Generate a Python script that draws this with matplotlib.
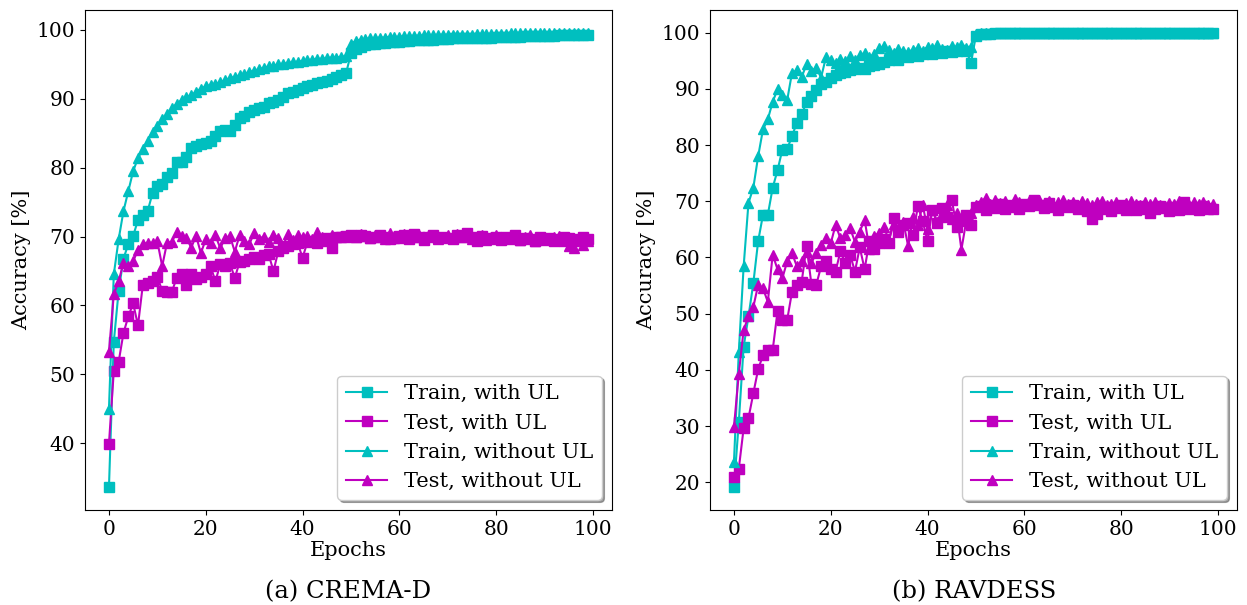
import matplotlib
matplotlib.use("Agg")
import matplotlib.pyplot as plt

plt.rcParams['font.family'] = ['DejaVu Serif']

epochs = list(range(100))

# ---- (a) CREMA-D ----
crema_train_ul = [
    33.6, 54.7, 62.1, 66.8, 68.9, 70.1, 72.4, 73.2, 73.7, 76.3,
    77.4, 77.6, 78.7, 79.2, 80.8, 80.9, 81.6, 82.8, 83.2, 83.4,
    83.6, 83.9, 84.6, 85.3, 85.5, 85.4, 86.2, 87.2, 87.5, 88.1,
    88.4, 88.6, 88.8, 89.4, 89.6, 89.9, 90.3, 90.8, 91.0, 91.3,
    91.6, 91.8, 92.0, 92.3, 92.5, 92.6, 92.9, 93.2, 93.4, 93.7,
    96.6, 97.3, 97.6, 97.8, 97.9, 98.0, 98.1, 98.1, 98.2, 98.3,
    98.3, 98.4, 98.4, 98.5, 98.5, 98.6, 98.6, 98.6, 98.7, 98.7,
    98.7, 98.8, 98.8, 98.8, 98.8, 98.9, 98.9, 98.9, 98.9, 98.9,
    99.0, 99.0, 99.0, 99.0, 99.0, 99.0, 99.1, 99.1, 99.1, 99.1,
    99.1, 99.1, 99.1, 99.2, 99.2, 99.2, 99.2, 99.2, 99.2, 99.2]
crema_test_ul = [
    39.9, 50.5, 51.8, 56.0, 58.4, 60.3, 57.1, 63.0, 63.3, 63.6,
    64.2, 62.1, 62.0, 62.0, 64.0, 64.5, 63.0, 64.5, 63.8, 64.2,
    64.6, 65.7, 63.5, 66.0, 65.8, 66.1, 64.0, 66.3, 66.5, 66.8,
    67.0, 66.7, 67.3, 67.4, 65.0, 67.9, 68.3, 68.6, 68.9, 69.1,
    66.9, 69.2, 69.4, 69.0, 69.6, 69.8, 68.4, 69.9, 70.0, 70.1,
    70.2, 70.0, 70.3, 70.1, 69.8, 69.9, 70.2, 70.0, 69.6, 69.8,
    70.1, 70.2, 69.7, 70.4, 69.9, 69.5, 70.0, 70.3, 69.8, 70.0,
    69.8, 69.6, 70.2, 70.0, 70.5, 69.9, 69.4, 70.1, 69.8, 69.6,
    70.0, 69.5, 69.9, 69.7, 70.2, 69.5, 69.8, 69.6, 69.3, 70.0,
    69.5, 69.8, 69.4, 69.7, 70.0, 69.8, 69.3, 69.6, 69.9, 69.6]
crema_train_nul = [
    45.0, 64.5, 69.6, 73.7, 76.6, 79.5, 81.4, 82.7, 83.9, 85.2,
    86.1, 87.1, 87.8, 88.6, 89.3, 89.8, 90.3, 90.5, 91.0, 91.5,
    91.8, 92.0, 92.2, 92.4, 92.7, 93.0, 93.2, 93.4, 93.6, 93.9,
    94.1, 94.3, 94.5, 94.7, 94.8, 95.0, 95.1, 95.2, 95.3, 95.4,
    95.5, 95.6, 95.7, 95.8, 95.8, 95.9, 96.0, 96.0, 96.1, 96.2,
    98.0, 98.4, 98.6, 98.7, 98.8, 98.8, 98.9, 98.9, 99.0, 99.0,
    99.0, 99.1, 99.1, 99.1, 99.1, 99.2, 99.2, 99.2, 99.2, 99.2,
    99.3, 99.3, 99.3, 99.3, 99.3, 99.3, 99.4, 99.4, 99.4, 99.4,
    99.4, 99.4, 99.4, 99.5, 99.5, 99.5, 99.5, 99.5, 99.5, 99.5,
    99.5, 99.6, 99.6, 99.6, 99.6, 99.6, 99.6, 99.6, 99.6, 99.6]
crema_test_nul = [
    53.3, 61.6, 63.5, 66.2, 65.7, 66.4, 68.1, 68.9, 69.1, 69.1,
    69.3, 65.7, 69.1, 69.2, 70.7, 70.1, 69.8, 68.4, 70.1, 67.6,
    69.6, 69.0, 70.2, 68.3, 69.8, 70.1, 67.8, 70.2, 69.4, 68.9,
    70.5, 69.7, 70.0, 69.2, 70.3, 69.8, 68.7, 70.4, 69.5, 70.2,
    69.9, 70.1, 69.6, 70.6, 70.0, 69.4, 70.3, 69.9, 70.1, 70.0,
    70.2, 69.9, 70.4, 70.1, 69.8, 70.3, 70.0, 69.7, 70.5, 70.1,
    69.8, 70.4, 70.0, 69.9, 70.2, 69.6, 70.1, 70.3, 69.7, 70.0,
    70.2, 69.8, 70.4, 69.9, 70.1, 69.6, 70.0, 70.3, 69.5, 69.9,
    70.2, 69.7, 70.0, 69.8, 70.1, 69.5, 69.9, 70.2, 69.4, 69.8,
    70.0, 69.6, 69.9, 70.1, 69.3, 68.6, 68.4, 69.5, 68.8, 69.4]

# ---- (b) RAVDESS ----
rav_train_ul = [
    19.1, 30.7, 44.1, 49.5, 55.4, 62.9, 67.6, 67.6, 72.4, 75.5,
    79.2, 79.3, 81.6, 84.0, 85.5, 87.6, 88.8, 89.8, 90.8, 91.2,
    91.9, 92.4, 92.8, 93.0, 93.3, 93.5, 93.8, 93.6, 94.1, 94.2,
    94.4, 94.8, 95.1, 95.3, 95.2, 95.8, 95.6, 96.0, 95.8, 96.2,
    96.4, 96.3, 96.6, 96.4, 96.7, 96.5, 96.8, 96.9, 96.7, 94.7,
    99.5, 99.7, 99.8, 99.8, 99.9, 99.9, 99.9, 99.9, 100.0, 99.9,
    100.0, 100.0, 99.9, 100.0, 100.0, 100.0, 99.9, 100.0, 100.0, 100.0,
    100.0, 99.9, 100.0, 100.0, 100.0, 100.0, 100.0, 99.9, 100.0, 100.0,
    100.0, 100.0, 100.0, 100.0, 99.9, 100.0, 100.0, 100.0, 100.0, 100.0,
    100.0, 100.0, 99.9, 100.0, 100.0, 100.0, 100.0, 100.0, 100.0, 100.0]
rav_test_ul = [
    20.9, 22.4, 29.6, 31.4, 35.8, 40.1, 42.6, 43.5, 43.5, 50.4,
    48.9, 48.9, 53.9, 55.1, 55.7, 62.0, 55.3, 55.1, 58.4, 59.3,
    58.0, 57.5, 61.1, 59.0, 60.5, 57.5, 61.8, 57.9, 63.0, 61.5,
    62.6, 63.2, 62.6, 67.0, 64.5, 65.8, 66.2, 64.0, 69.1, 66.5,
    62.9, 68.5, 66.1, 68.8, 67.2, 70.3, 65.5, 66.8, 67.5, 65.8,
    68.9, 69.2, 68.5, 69.4, 68.8, 69.6, 68.7, 69.3, 69.0, 68.6,
    69.5, 69.1, 70.2, 69.4, 68.8, 69.7, 69.0, 68.5, 69.2, 68.9,
    69.4, 68.7, 69.1, 68.3, 66.9, 67.8, 68.6, 69.0, 68.2, 68.8,
    69.3, 68.5, 68.9, 68.4, 69.1, 68.7, 68.0, 68.6, 69.2, 68.8,
    68.3, 69.0, 68.5, 69.8, 68.7, 68.9, 68.4, 69.1, 68.6, 68.7]
rav_train_nul = [
    23.6, 43.2, 58.4, 69.7, 72.4, 78.0, 82.8, 84.6, 87.7, 89.9,
    88.9, 88.0, 92.9, 93.3, 92.1, 94.4, 93.2, 93.8, 92.0, 95.6,
    95.1, 94.6, 95.3, 94.9, 95.8, 95.2, 96.0, 96.4, 95.7, 96.2,
    97.2, 97.6, 96.9, 96.4, 97.1, 96.8, 96.5, 97.0, 97.3, 96.8,
    97.5, 97.2, 97.8, 97.1, 96.9, 97.7, 97.4, 97.8, 97.2, 97.5,
    99.7, 99.9, 100.0, 100.0, 99.9, 100.0, 100.0, 100.0, 100.0, 100.0,
    100.0, 100.0, 100.0, 100.0, 100.0, 100.0, 100.0, 100.0, 100.0, 100.0,
    100.0, 100.0, 100.0, 100.0, 100.0, 100.0, 100.0, 100.0, 100.0, 100.0,
    100.0, 100.0, 100.0, 100.0, 100.0, 100.0, 100.0, 100.0, 100.0, 100.0,
    100.0, 100.0, 100.0, 100.0, 100.0, 100.0, 100.0, 100.0, 100.0, 100.0]
rav_test_nul = [
    29.8, 39.3, 47.1, 49.5, 51.2, 55.1, 54.5, 52.1, 60.5, 57.9,
    56.3, 59.3, 60.8, 58.4, 59.3, 61.0, 59.0, 60.8, 62.3, 63.5,
    62.5, 65.8, 63.4, 64.0, 65.2, 62.8, 64.6, 66.7, 61.5, 63.9,
    64.3, 65.5, 63.0, 66.0, 64.8, 66.3, 62.0, 67.2, 65.8, 69.4,
    65.0, 68.5, 66.4, 67.5, 69.4, 66.8, 68.0, 61.4, 66.5, 67.9,
    69.4, 69.8, 70.6, 69.5, 70.2, 69.7, 70.0, 69.3, 70.4, 69.8,
    69.5, 70.1, 69.9, 70.3, 69.6, 70.0, 69.4, 69.8, 70.2, 69.5,
    69.9, 69.2, 70.0, 69.7, 69.3, 69.8, 70.1, 69.4, 69.6, 69.9,
    69.2, 69.7, 70.0, 69.5, 69.3, 69.8, 69.6, 69.9, 69.4, 69.1,
    69.7, 69.5, 70.0, 69.6, 69.3, 69.8, 69.5, 69.9, 69.4, 69.6]

series_labels = ["Train, with UL", "Test, with UL", "Train, without UL", "Test, without UL"]
captions = ["(a) CREMA-D", "(b) RAVDESS"]

for s in [crema_train_ul, crema_test_ul, crema_train_nul, crema_test_nul,
          rav_train_ul, rav_test_ul, rav_train_nul, rav_test_nul]:
    assert len(s) == 100, len(s)

fig = plt.figure(figsize=(12.47, 6.05), dpi=100)
ax1 = fig.add_axes([85/1247, 95/605, 527/1247, 500/605])
ax2 = fig.add_axes([710/1247, 95/605, 527/1247, 500/605])

panels = [
    (ax1, [crema_train_ul, crema_test_ul, crema_train_nul, crema_test_nul], [40, 50, 60, 70, 80, 90, 100]),
    (ax2, [rav_train_ul, rav_test_ul, rav_train_nul, rav_test_nul], [20, 30, 40, 50, 60, 70, 80, 90, 100]),
]
styles = [("c", "s"), ("m", "s"), ("c", "^"), ("m", "^")]

for ax, data, yticks in panels:
    for vals, (col, mk), lab in zip(data, styles, series_labels):
        ax.plot(epochs, vals, color=col, marker=mk, markersize=7, linewidth=1.5, label=lab)
    ax.set_xticks([0, 20, 40, 60, 80, 100])
    ax.set_yticks(yticks)
    ax.tick_params(labelsize=14.5)
    ax.set_xlabel("Epochs", fontsize=15, labelpad=2)
    ax.set_ylabel("Accuracy [%]", fontsize=15, labelpad=4)
    ax.legend(loc="lower right", fontsize=15, shadow=True, handlelength=2.0,
              borderaxespad=0.5)

fig.text(348/1247, 1 - 592/605, captions[0], ha="center", va="center", fontsize=17.5)
fig.text(974/1247, 1 - 592/605, captions[1], ha="center", va="center", fontsize=17.5)

fig.savefig("out.png", dpi=100)
